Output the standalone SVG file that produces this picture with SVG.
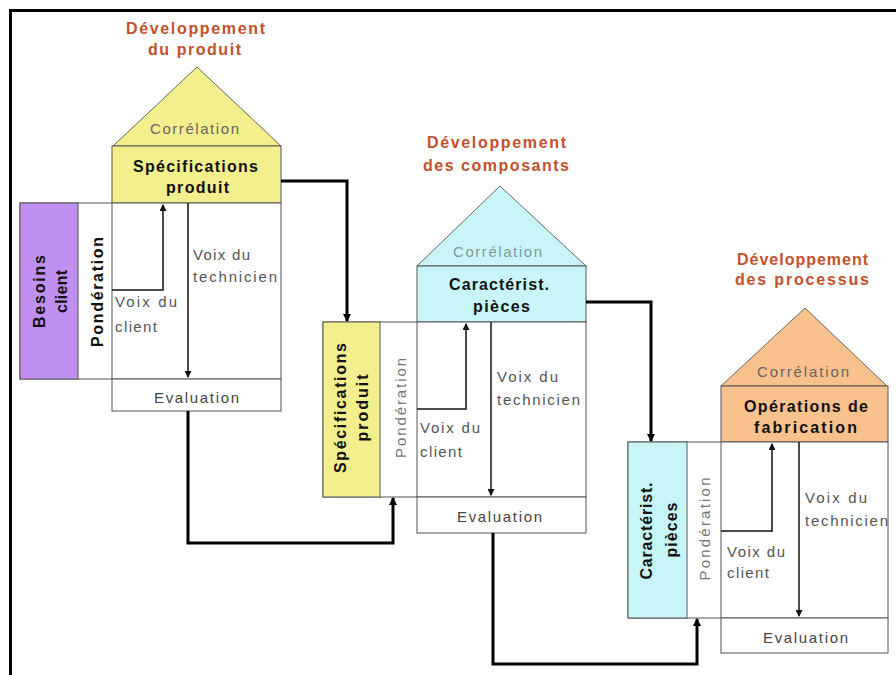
<svg xmlns="http://www.w3.org/2000/svg" width="896" height="675" viewBox="0 0 896 675">
<style>
text{font-family:"Liberation Sans",Arial,sans-serif;font-size:15px}
.ttl{font-weight:bold;fill:#c4502c;text-anchor:middle;font-size:16px}
.hdr{font-weight:bold;fill:#111;text-anchor:middle;font-size:16px}
.cor{fill:#666;text-anchor:middle}
.lbl{fill:#555}
.ev{fill:#444;text-anchor:middle}
.rb{font-weight:bold;fill:#111;text-anchor:middle;font-size:16px}
.rp{fill:#777;text-anchor:middle}
.box{stroke:#555;stroke-width:1}
.ln{fill:none;stroke:#555;stroke-width:1}
.ia{fill:none;stroke:#111;stroke-width:1.5}
.con{fill:none;stroke:#000;stroke-width:3}
</style>
<defs>
<marker id="ah" markerWidth="8" markerHeight="8" refX="7" refY="4" orient="auto" markerUnits="userSpaceOnUse">
<path d="M0,0 L8,4 L0,8 Z" fill="#000"/>
</marker>
<marker id="as" markerWidth="7" markerHeight="7" refX="6" refY="3.5" orient="auto" markerUnits="userSpaceOnUse">
<path d="M0,0 L7,3.5 L0,7 Z" fill="#111"/>
</marker>
</defs>
<rect width="896" height="675" fill="#fff"/>
<path d="M10.5,675 V10.5 H896" fill="none" stroke="#000" stroke-width="3"/>

<g id="house1">
<text class="ttl" x="195.5" y="34" textLength="139">Développement</text>
<text class="ttl" x="194.5" y="55" textLength="93">du produit</text>
<polygon points="197,67 113,146 281,146" fill="#f3ef8c" stroke="#666"/>
<text class="cor" x="194.5" y="134" textLength="89">Corrélation</text>
<rect class="box" x="112" y="146" width="169" height="57" fill="#f3ef8c"/>
<text class="hdr" x="195.5" y="172" textLength="125">Spécifications</text>
<text class="hdr" x="197.5" y="193" textLength="63">produit</text>
<rect class="box" x="20" y="203" width="261" height="176" fill="#fff"/>
<rect class="box" x="20" y="203" width="58" height="176" fill="#c090f0"/>
<line class="ln" x1="112" y1="203" x2="112" y2="379"/>
<rect class="box" x="112" y="379" width="169" height="32" fill="#fff"/>
<path class="ia" d="M112,290 H163 V205" marker-end="url(#as)"/>
<path class="ia" d="M188,203 V377" marker-end="url(#as)"/>
<text class="rb" transform="translate(45,291.5) rotate(-90)" textLength="73">Besoins</text>
<text class="rb" transform="translate(67,291.5) rotate(-90)" textLength="43">client</text>
<text class="rb" transform="translate(103,292) rotate(-90)" textLength="110">Pondération</text>
<text class="lbl" x="115" y="307" textLength="62">Voix du</text>
<text class="lbl" x="115" y="332" textLength="42">client</text>
<text class="lbl" x="193" y="260" textLength="57">Voix du</text>
<text class="lbl" x="193" y="282" textLength="84">technicien</text>
<text class="ev" x="196.5" y="403" textLength="85">Evaluation</text>
</g>

<g id="house2">
<text class="ttl" x="496.5" y="148" textLength="139">Développement</text>
<text class="ttl" x="496" y="171" textLength="146">des composants</text>
<polygon points="500,186 417,266 586,266" fill="#c8f6f8" stroke="#666"/>
<text class="cor" x="497.5" y="257" textLength="89" style="fill:#7f9a9c">Corrélation</text>
<rect class="box" x="417" y="266" width="169" height="56" fill="#c8f6f8"/>
<text class="hdr" x="499" y="290" textLength="100">Caractérist.</text>
<text class="hdr" x="501.5" y="312" textLength="57">pièces</text>
<rect class="box" x="323" y="322" width="263" height="175" fill="#fff"/>
<rect class="box" x="323" y="322" width="57" height="175" fill="#f3ef8c"/>
<line class="ln" x1="417" y1="322" x2="417" y2="497"/>
<rect class="box" x="417" y="497" width="169" height="36" fill="#fff"/>
<path class="ia" d="M417,409 H466 V324" marker-end="url(#as)"/>
<path class="ia" d="M491,322 V495" marker-end="url(#as)"/>
<text class="rb" transform="translate(346,408) rotate(-90)" textLength="130">Spécifications</text>
<text class="rb" transform="translate(368,408) rotate(-90)" textLength="67">produit</text>
<text class="rp" transform="translate(406,408) rotate(-90)" textLength="100">Pondération</text>
<text class="lbl" x="420" y="433" textLength="60">Voix du</text>
<text class="lbl" x="420" y="457" textLength="42">client</text>
<text class="lbl" x="497" y="382" textLength="61">Voix du</text>
<text class="lbl" x="497" y="405" textLength="83">technicien</text>
<text class="ev" x="499.5" y="522" textLength="85">Evaluation</text>
</g>

<g id="house3">
<text class="ttl" x="802.5" y="265" textLength="131">Développement</text>
<text class="ttl" x="802" y="285" textLength="134">des processus</text>
<polygon points="805,308 721,386 887,386" fill="#f9c18c" stroke="#666"/>
<text class="cor" x="803" y="377" textLength="92">Corrélation</text>
<rect class="box" x="721" y="386" width="167" height="56" fill="#f9c18c"/>
<text class="hdr" x="806" y="412" textLength="124">Opérations de</text>
<text class="hdr" x="805.5" y="433" textLength="103">fabrication</text>
<rect class="box" x="628" y="442" width="260" height="176" fill="#fff"/>
<rect class="box" x="628" y="442" width="59" height="176" fill="#c8f6f8"/>
<line class="ln" x1="721" y1="442" x2="721" y2="618"/>
<rect class="box" x="721" y="618" width="167" height="35" fill="#fff"/>
<path class="ia" d="M721,531 H772 V444" marker-end="url(#as)"/>
<path class="ia" d="M799,442 V616" marker-end="url(#as)"/>
<text class="rb" transform="translate(652,531) rotate(-90)" textLength="97">Caractérist.</text>
<text class="rb" transform="translate(677,530) rotate(-90)" textLength="55">pièces</text>
<text class="rp" transform="translate(710,529) rotate(-90)" textLength="103">Pondération</text>
<text class="lbl" x="727" y="557" textLength="58">Voix du</text>
<text class="lbl" x="727" y="578" textLength="42">client</text>
<text class="lbl" x="805" y="503" textLength="62">Voix du</text>
<text class="lbl" x="805" y="526" textLength="83">technicien</text>
<text class="ev" x="805.5" y="643" textLength="85">Evaluation</text>
</g>

<g id="connectors">
<path class="con" d="M281,181 H347 V321" marker-end="url(#ah)"/>
<path class="con" d="M188,411 V543 H393 V498" marker-end="url(#ah)"/>
<path class="con" d="M586,302 H651 V441" marker-end="url(#ah)"/>
<path class="con" d="M493,533 V664 H697 V619" marker-end="url(#ah)"/>
</g>
</svg>
